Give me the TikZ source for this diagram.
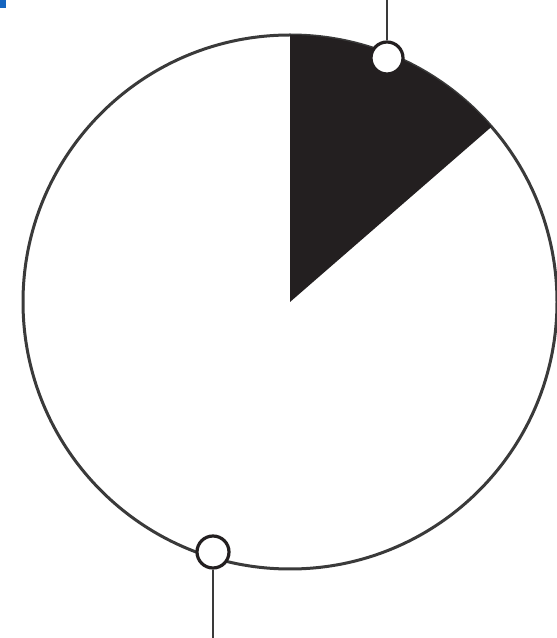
\documentclass[tikz,border=0pt]{standalone}
\usetikzlibrary{positioning}
\definecolor{sectorBlack}{HTML}{231F20}
\definecolor{rimGray}{HTML}{3A3A3A}
\definecolor{cornerBlue}{HTML}{1565C0}
\tikzset{
  pinhole/.style={circle, draw=sectorBlack, fill=white, line width=1.6pt,
    inner sep=0pt, minimum size=16pt},
  lead/.style={rimGray, line width=1.2pt}
}
\begin{document}
\begin{tikzpicture}[x=0.5pt, y=0.5pt]
    \useasboundingbox (0,0) rectangle (557,638);
    % marca azul
    \fill[cornerBlue] (0,638) rectangle (6,630);

    % circulo
    \coordinate (centro) at (290,336);
    \draw[rimGray, line width=1.5pt, fill=white] (centro) circle (267);

    % sector negro
    \fill[sectorBlack] (centro) -- ++(90:267) arc (90:41:267) -- cycle;

    % puntos de conexion
    \node[pinhole] (pinTop) at (387,580) {};
    \node[pinhole] (pinBot) at (213,86) {};
    \coordinate (topEnd) at (387,638);
    \coordinate (botEnd) at (213,0);
    \draw[lead] (pinTop.north) -- (topEnd);
    \draw[lead] (pinBot.south) -- (botEnd);
  \end{tikzpicture}
\end{document}
